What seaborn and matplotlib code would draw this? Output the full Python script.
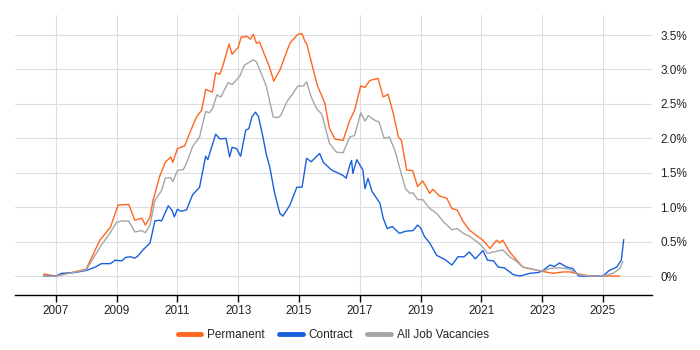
import numpy as np
import pandas as pd
import matplotlib
matplotlib.use("Agg")
import matplotlib.pyplot as plt
import seaborn as sns

# Share of job vacancies (%)
perm_years = [2006.6, 2007.0, 2008.0, 2008.45, 2008.8, 2009.05, 2009.4, 2009.6, 2009.83, 2009.95,
              2010.1, 2010.2, 2010.42, 2010.6, 2010.78, 2010.85, 2011.0, 2011.24, 2011.4, 2011.63,
              2011.8, 2011.93, 2012.15, 2012.26, 2012.4, 2012.5, 2012.7, 2012.8, 2013.0, 2013.1,
              2013.3, 2013.4, 2013.5, 2013.6, 2013.7, 2013.87, 2014.04, 2014.17, 2014.37, 2014.53,
              2014.7, 2014.96, 2015.1, 2015.2, 2015.25, 2015.45, 2015.6, 2015.85, 2016.0, 2016.18,
              2016.45, 2016.67, 2016.83, 2017.03, 2017.17, 2017.33, 2017.6, 2017.77, 2017.93, 2018.1,
              2018.27, 2018.37, 2018.54, 2018.74, 2018.9, 2019.07, 2019.3, 2019.4, 2019.63, 2019.86,
              2020.03, 2020.2, 2020.4, 2020.6, 2020.8, 2021.05, 2021.28, 2021.5, 2021.6, 2021.7,
              2021.93, 2022.16, 2022.36, 2022.66, 2022.98, 2023.35, 2023.7, 2023.9, 2024.2, 2024.57,
              2025.55]
permanent = [0.03, 0.0, 0.1, 0.52, 0.71, 1.03, 1.04, 0.81, 0.84, 0.74,
             0.86, 1.10, 1.45, 1.65, 1.73, 1.65, 1.85, 1.89, 2.07, 2.31,
             2.41, 2.71, 2.67, 2.95, 2.93, 3.06, 3.37, 3.22, 3.32, 3.47,
             3.48, 3.44, 3.51, 3.38, 3.40, 3.21, 3.02, 2.83, 2.99, 3.18,
             3.38, 3.51, 3.52, 3.40, 3.38, 3.03, 2.77, 2.51, 2.15, 1.99,
             1.97, 2.26, 2.41, 2.76, 2.74, 2.84, 2.87, 2.60, 2.64, 2.36,
             2.02, 1.97, 1.54, 1.53, 1.30, 1.38, 1.20, 1.26, 1.16, 1.13,
             0.98, 0.96, 0.79, 0.67, 0.60, 0.52, 0.40, 0.52, 0.48, 0.52,
             0.35, 0.23, 0.13, 0.10, 0.07, 0.04, 0.06, 0.06, 0.03, 0.0,
             0.0]

contract_years = [2006.6, 2007.0, 2007.2, 2007.6, 2008.0, 2008.3, 2008.5, 2008.8, 2008.95, 2009.17,
                  2009.3, 2009.45, 2009.6, 2009.7, 2009.87, 2010.1, 2010.26, 2010.4, 2010.48, 2010.7,
                  2010.83, 2010.9, 2011.0, 2011.12, 2011.3, 2011.5, 2011.73, 2011.93, 2012.0, 2012.26,
                  2012.4, 2012.6, 2012.72, 2012.8, 2012.95, 2013.08, 2013.25, 2013.35, 2013.45, 2013.57,
                  2013.67, 2013.8, 2013.93, 2014.04, 2014.2, 2014.37, 2014.47, 2014.7, 2014.93, 2015.1,
                  2015.25, 2015.4, 2015.68, 2015.8, 2016.07, 2016.45, 2016.55, 2016.67, 2016.73, 2016.77,
                  2016.9, 2017.1, 2017.17, 2017.27, 2017.4, 2017.66, 2017.77, 2017.9, 2018.07, 2018.3,
                  2018.5, 2018.75, 2018.9, 2019.0, 2019.13, 2019.3, 2019.53, 2019.8, 2020.03, 2020.23,
                  2020.43, 2020.6, 2020.8, 2021.05, 2021.2, 2021.4, 2021.55, 2021.75, 2022.05, 2022.27,
                  2022.6, 2022.85, 2023.0, 2023.25, 2023.4, 2023.57, 2023.8, 2024.0, 2024.2, 2025.0,
                  2025.2, 2025.45, 2025.6, 2025.68]
contract = [0.0, 0.0, 0.04, 0.05, 0.08, 0.13, 0.18, 0.18, 0.23, 0.22,
            0.27, 0.28, 0.26, 0.29, 0.38, 0.48, 0.80, 0.81, 0.80, 1.02,
            0.95, 0.86, 0.97, 0.94, 0.96, 1.18, 1.29, 1.74, 1.69, 2.06,
            1.99, 2.00, 1.73, 1.87, 1.85, 1.74, 2.12, 2.14, 2.31, 2.38,
            2.31, 2.05, 1.76, 1.58, 1.20, 0.91, 0.87, 1.03, 1.29, 1.29,
            1.71, 1.66, 1.78, 1.65, 1.54, 1.46, 1.42, 1.61, 1.68, 1.49,
            1.69, 1.54, 1.27, 1.42, 1.23, 1.06, 0.84, 0.69, 0.72, 0.62,
            0.65, 0.66, 0.74, 0.70, 0.57, 0.48, 0.30, 0.24, 0.16, 0.28,
            0.28, 0.35, 0.25, 0.37, 0.23, 0.22, 0.13, 0.12, 0.02, 0.0,
            0.04, 0.05, 0.07, 0.16, 0.14, 0.19, 0.13, 0.11, 0.0, 0.0,
            0.08, 0.13, 0.23, 0.53]

all_years = [2006.6, 2007.0, 2008.0, 2008.5, 2008.78, 2009.0, 2009.17, 2009.4, 2009.6, 2009.83,
             2009.95, 2010.1, 2010.26, 2010.48, 2010.6, 2010.78, 2010.85, 2011.0, 2011.2, 2011.3,
             2011.5, 2011.73, 2011.93, 2012.05, 2012.15, 2012.3, 2012.43, 2012.67, 2012.8, 2013.05,
             2013.2, 2013.5, 2013.6, 2013.78, 2013.93, 2014.15, 2014.3, 2014.4, 2014.6, 2014.8,
             2014.96, 2015.15, 2015.25, 2015.4, 2015.58, 2015.75, 2016.0, 2016.23, 2016.45, 2016.67,
             2016.83, 2017.03, 2017.17, 2017.28, 2017.5, 2017.63, 2017.8, 2017.97, 2018.15, 2018.3,
             2018.5, 2018.65, 2018.75, 2018.9, 2019.07, 2019.3, 2019.53, 2019.75, 2020.03, 2020.2,
             2020.4, 2020.6, 2020.85, 2021.05, 2021.2, 2021.5, 2021.7, 2021.93, 2022.16, 2022.36,
             2022.7, 2023.0, 2023.25, 2023.57, 2023.9, 2024.2, 2024.57, 2025.0, 2025.33, 2025.55,
             2025.65]
all_jobs = [0.0, 0.0, 0.09, 0.45, 0.62, 0.78, 0.80, 0.80, 0.64, 0.66,
            0.63, 0.74, 1.10, 1.24, 1.42, 1.43, 1.37, 1.53, 1.55, 1.64,
            1.88, 2.02, 2.39, 2.37, 2.43, 2.63, 2.60, 2.81, 2.78, 2.90,
            3.06, 3.14, 3.11, 2.92, 2.75, 2.31, 2.30, 2.33, 2.53, 2.65,
            2.76, 2.76, 2.82, 2.60, 2.43, 2.35, 1.93, 1.80, 1.79, 2.02,
            2.04, 2.37, 2.25, 2.33, 2.26, 2.24, 2.00, 2.02, 1.83, 1.59,
            1.27, 1.20, 1.21, 1.11, 1.11, 0.98, 0.91, 0.79, 0.67, 0.69,
            0.62, 0.58, 0.50, 0.42, 0.33, 0.36, 0.38, 0.28, 0.21, 0.13,
            0.10, 0.07, 0.11, 0.12, 0.10, 0.02, 0.0, 0.0, 0.04, 0.11,
            0.21]

year_ticks = [2007, 2009, 2011, 2013, 2015, 2017, 2019, 2021, 2023, 2025]
pct_ticks = [0, 0.5, 1.0, 1.5, 2.0, 2.5, 3.0, 3.5]

series = [
    ("Permanent", perm_years, permanent, "#ff6620"),
    ("Contract", contract_years, contract, "#1a5fdc"),
    ("All Job Vacancies", all_years, all_jobs, "#a6a6a6"),
]

sns.set_style("white")
plt.rcParams["font.family"] = ["Liberation Sans", "DejaVu Sans"]

fig = plt.figure(figsize=(7, 3.5), dpi=100)
ax = fig.add_axes([0.021, 0.157, 0.91, 0.80])

for name, xs, ys, color in series:
    sns.lineplot(x=xs, y=ys, ax=ax, color=color, linewidth=1.0, label=name)

ax.set_xlim(2005.65, 2026.6)
ax.set_ylim(-0.276, 3.79)
ax.set_xticks(year_ticks)
ax.set_xticklabels([str(y) for y in year_ticks], fontsize=8.5, color="#222222")
ax.set_yticks(pct_ticks)
ax.set_yticklabels(["0%" if v == 0 else f"{v:.1f}%" for v in pct_ticks],
                   fontsize=8.5, color="#222222")
ax.yaxis.tick_right()
ax.grid(True, color="#dddddd", linewidth=0.8)
ax.set_axisbelow(True)

for side in ["top", "left", "right"]:
    ax.spines[side].set_visible(False)
ax.spines["bottom"].set_color("black")
ax.spines["bottom"].set_linewidth(1.0)
ax.tick_params(axis="x", length=5, width=1, color="black", pad=2, bottom=True)
ax.tick_params(axis="y", length=0, pad=6)

leg = ax.legend(loc="center", bbox_to_anchor=(0.5, -0.143), ncol=3, frameon=False,
                fontsize=8.5, handlelength=2.0, handletextpad=0.5, columnspacing=1.2)
for line in leg.get_lines():
    line.set_linewidth(3.5)

fig.savefig("out.png", dpi=100)
